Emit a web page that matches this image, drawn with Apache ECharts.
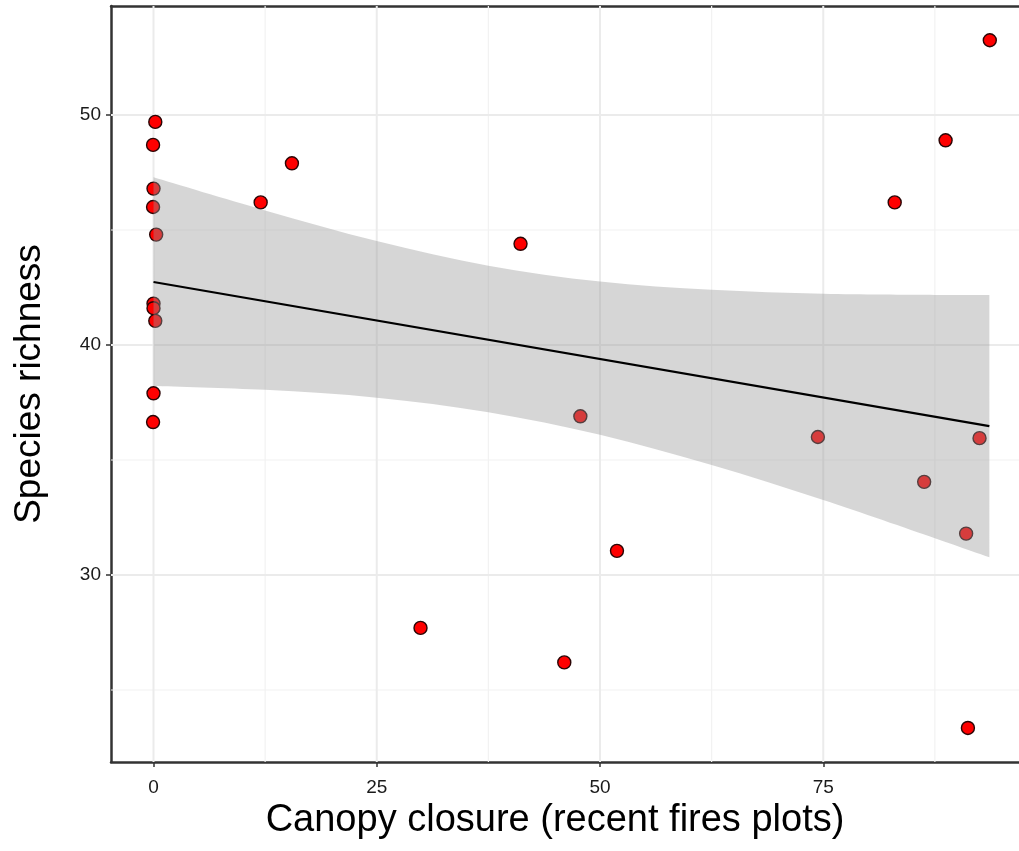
<!DOCTYPE html>
<html>
<head>
<meta charset="utf-8">
<script src="https://cdn.jsdelivr.net/npm/echarts@6/dist/echarts.min.js"></script>
<style>html,body{margin:0;padding:0;background:#fff;}#c{width:1019px;height:851px;}</style>
</head>
<body>
<div id="c"></div>
<script>
// Data
const canopy   = [0.2, -0.05, 0.0, -0.05, 0.3, 0.0, 0.0, 0.2, 0.0, -0.05, 12.0, 15.5, 29.9, 41.1, 46.0, 47.8, 51.9, 74.4, 83.0, 86.3, 88.7, 91.0, 91.2, 92.5, 93.65];
const richness = [49.7, 48.7, 46.8, 46.0, 44.8, 41.8, 41.6, 41.05, 37.9, 36.65, 46.2, 47.9, 27.7, 44.4, 26.2, 36.9, 31.05, 36.0, 46.2, 34.05, 48.9, 31.8, 23.35, 35.95, 53.25];

// Fitted line and confidence band
const fitX = [0, 93.6];
const fitY = [42.74, 36.47];
const bandX     = [0, 12.5, 25, 37.5, 50, 62.5, 75, 87.5, 93.6];
const bandUpper = [47.29, 45.85, 44.52, 43.45, 42.76, 42.40, 42.23, 42.18, 42.17];
const bandLower = [38.22, 38.05, 37.71, 37.08, 36.10, 34.78, 33.26, 31.60, 30.77];

// Axis ticks
const xMajor = [0, 25, 50, 75];
const xMinor = [12.5, 37.5, 62.5, 87.5];
const yMajor = [30, 40, 50];
const yMinor = [25, 35, 45];

const X_MIN = -4.76, X_MAX = 96.92, Y_MIN = 21.87, Y_MAX = 54.74;
const FONT = 'Liberation Sans, Arial, Helvetica, sans-serif';

const chart = echarts.init(document.getElementById('c'), null, {renderer: 'canvas'});

function vLines(vals, color, width) {
  return {
    type: 'custom', z: 1, silent: true, clip: true,
    data: vals.map(v => [v, Y_MIN]),
    renderItem: (params, api) => {
      const v = vals[params.dataIndex];
      const a = api.coord([v, Y_MIN]);
      const b = api.coord([v, Y_MAX]);
      return {type: 'line', shape: {x1: a[0], y1: a[1], x2: b[0], y2: b[1]}, style: {stroke: color, lineWidth: width}};
    }
  };
}
function hLines(vals, color, width) {
  return {
    type: 'custom', z: 1, silent: true, clip: true,
    data: vals.map(v => [X_MIN, v]),
    renderItem: (params, api) => {
      const v = vals[params.dataIndex];
      const a = api.coord([X_MIN, v]);
      const b = api.coord([X_MAX, v]);
      return {type: 'line', shape: {x1: a[0], y1: a[1], x2: b[0], y2: b[1]}, style: {stroke: color, lineWidth: width}};
    }
  };
}

// Smooth (Catmull-Rom) path through pixel points, continuing an existing path
function splineSegs(p) {
  let d = '';
  for (let i = 0; i < p.length - 1; i++) {
    const p0 = p[Math.max(i - 1, 0)], p1 = p[i], p2 = p[i + 1], p3 = p[Math.min(i + 2, p.length - 1)];
    const c1 = [p1[0] + (p2[0] - p0[0]) / 6, p1[1] + (p2[1] - p0[1]) / 6];
    const c2 = [p2[0] - (p3[0] - p1[0]) / 6, p2[1] - (p3[1] - p1[1]) / 6];
    d += ' C' + c1[0] + ' ' + c1[1] + ' ' + c2[0] + ' ' + c2[1] + ' ' + p2[0] + ' ' + p2[1];
  }
  return d;
}

const borderLine = {show: true, onZero: false, lineStyle: {color: '#333333', width: 2.5}};

const option = {
  animation: false,
  backgroundColor: '#ffffff',
  grid: {left: 111, top: 6, right: 0, height: 756, show: false},
  xAxis: [{
    type: 'value', min: X_MIN, max: X_MAX,
    name: 'Canopy closure (recent fires plots)',
    nameLocation: 'middle', nameGap: 36,
    nameTextStyle: {fontFamily: FONT, fontSize: 38, color: '#000', padding: [0, 20, 0, 0]},
    axisLine: borderLine,
    splitLine: {show: false},
    axisTick: {show: true, customValues: xMajor, length: 5, lineStyle: {color: '#333', width: 1.5}},
    axisLabel: {customValues: xMajor, fontFamily: FONT, fontSize: 19, color: '#1a1a1a', margin: 16}
  }, {
    type: 'value', min: X_MIN, max: X_MAX, position: 'top',
    axisLine: borderLine,
    splitLine: {show: false},
    axisTick: {show: false},
    axisLabel: {show: false}
  }],
  yAxis: {
    type: 'value', min: Y_MIN, max: Y_MAX,
    name: 'Species richness',
    nameLocation: 'middle', nameGap: 63, nameRotate: 90,
    nameTextStyle: {fontFamily: FONT, fontSize: 37, color: '#000'},
    axisLine: borderLine,
    splitLine: {show: false},
    axisTick: {show: true, customValues: yMajor, length: 5, lineStyle: {color: '#333', width: 1.5}},
    axisLabel: {customValues: yMajor, fontFamily: FONT, fontSize: 19, color: '#1a1a1a', margin: 10}
  },
  series: [
    vLines(xMinor, '#F2F2F2', 1.2),
    hLines(yMinor, '#F2F2F2', 1.2),
    vLines(xMajor, '#EBEBEB', 2),
    hLines(yMajor, '#EBEBEB', 2),
    {
      type: 'scatter', z: 3,
      data: canopy.map((x, i) => [x, richness[i]]),
      symbol: 'circle', symbolSize: 13,
      itemStyle: {color: '#FF0000', borderColor: '#2a0505', borderWidth: 1.4, opacity: 1}
    },
    {
      type: 'custom', z: 4, silent: true,
      data: [[bandX[0], bandUpper[0]]],
      renderItem: (params, api) => {
        const up = bandX.map((x, i) => api.coord([x, bandUpper[i]]));
        const lo = bandX.map((x, i) => api.coord([x, bandLower[i]])).reverse();
        const d = 'M' + up[0][0] + ' ' + up[0][1] + splineSegs(up) +
                  ' L' + lo[0][0] + ' ' + lo[0][1] + splineSegs(lo) + ' Z';
        return {type: 'path', shape: {pathData: d}, style: {fill: 'rgba(153,153,153,0.4)', stroke: null}};
      }
    },
    {
      type: 'line', z: 5, silent: true,
      data: fitX.map((x, i) => [x, fitY[i]]),
      symbol: 'none',
      lineStyle: {color: '#000', width: 2.2}
    }
  ]
};
chart.setOption(option);
</script>
</body>
</html>
